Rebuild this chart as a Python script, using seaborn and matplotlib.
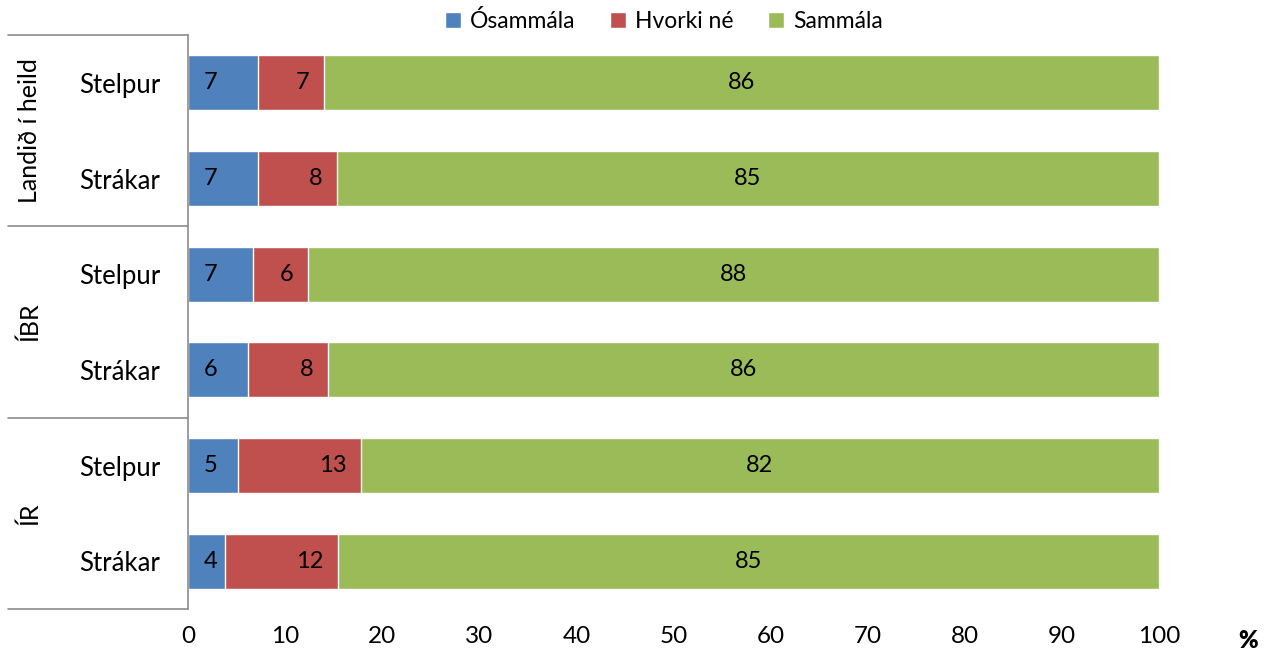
import numpy as np
import pandas as pd
import matplotlib
matplotlib.use('Agg')
import matplotlib.pyplot as plt
import seaborn as sns
from matplotlib.patches import Patch

# data (percent)
groups = ['Landið í heild', 'ÍBR', 'ÍR']
sexes = ['Stelpur', 'Strákar']
osammala = [7.2, 7.2, 6.7, 6.2, 5.1, 3.8]
hvorki = [6.8, 8.1, 5.7, 8.2, 12.7, 11.6]
sammala = [86.0, 84.7, 87.6, 85.6, 82.2, 84.6]
series_names = ['Ósammála', 'Hvorki né', 'Sammála']
colors = ['#4F81BD', '#C0504D', '#9BBB59']
xticks = list(range(0, 101, 10))

sns.set_style('white')
plt.rcParams['font.family'] = ['Lato', 'DejaVu Sans']
plt.rcParams['text.color'] = 'black'
plt.rcParams['xtick.color'] = 'black'
plt.rcParams['ytick.color'] = 'black'

rows = [g + '|' + s for g in groups for s in sexes]
df = pd.DataFrame({'row': rows, 'o': osammala, 'h': hvorki, 's': sammala})
df['c1'] = df.o
df['c2'] = df.o + df.h
df['c3'] = df.o + df.h + df.s

fig = plt.figure(figsize=(12.74, 6.56), dpi=100)
ax = fig.add_axes([0.1476, 0.0716, 0.7622, 0.875])

# stacked by overlaying cumulative bars (largest first)
for col, c in zip(['c3', 'c2', 'c1'], colors[::-1]):
    sns.barplot(data=df, x=col, y='row', color=c, orient='h', width=0.575,
                saturation=1, ax=ax, order=rows)

ax.set_xlim(0, 100)
ax.set_ylim(5.5, -0.5)
ax.set_xticks(xticks)
ax.set_xticklabels([str(t) for t in xticks], fontsize=17.5)
ax.set_yticks(range(len(rows)))
ax.set_yticklabels([r.split('|')[1] for r in rows], fontsize=18.5)
ax.tick_params(axis='x', length=0, pad=12)
ax.tick_params(axis='y', length=0, pad=20)
ax.set_xlabel('')
ax.set_ylabel('')
for sp in ['top', 'right', 'bottom']:
    ax.spines[sp].set_visible(False)
ax.spines['left'].set_color('#8c8c8c')
ax.spines['left'].set_linewidth(1.2)

# value labels
for i in range(len(rows)):
    o, h, s = osammala[i], hvorki[i], sammala[i]
    ax.text(2.3, i, f'{round(o)}', ha='center', va='center', fontsize=17)
    ax.text(o + h - 1.5, i, f'{round(h)}', ha='right', va='center', fontsize=17)
    ax.text(o + h + s / 2, i, f'{round(s)}', ha='center', va='center', fontsize=17)

# multi-level category axis box
trans = ax.get_yaxis_transform()
for y in [-0.5, 1.5, 3.5, 5.5]:
    ax.plot([-0.1854, 0], [y, y], transform=trans, color='#8c8c8c', lw=1.2,
            clip_on=False)
for k, g in enumerate(groups):
    ax.text(-0.163, 2 * k + 0.5, g, transform=trans, rotation=90,
            ha='center', va='center', fontsize=18)

ax.text(1.0915, -0.055, '%', transform=ax.transAxes, ha='center', va='center',
        fontsize=17, fontweight='heavy')

handles = [Patch(facecolor=c, label=n) for c, n in zip(colors, series_names)]
ax.legend(handles=handles, loc='lower center', bbox_to_anchor=(0.49, 0.99),
          ncol=3, frameon=False, fontsize=16.5, handlelength=0.7,
          handleheight=0.7, handletextpad=0.4, columnspacing=1.5,
          borderaxespad=0)

fig.savefig('out.png', dpi=100)
